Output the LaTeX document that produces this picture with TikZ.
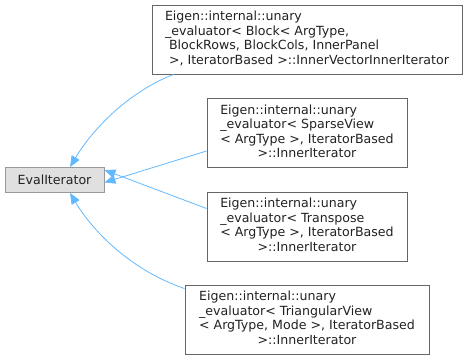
\documentclass[tikz,border=0pt]{standalone}
\usepackage{fontspec}
\setmainfont{DejaVu Sans}
\usetikzlibrary{arrows.meta}
\definecolor{edgeblue}{HTML}{63B8FF}
\definecolor{basefill}{HTML}{E0E0E0}
\definecolor{baseborder}{HTML}{999999}
\definecolor{classborder}{HTML}{666666}
\definecolor{txt}{HTML}{222222}
\begin{document}
\begin{tikzpicture}[x=1pt,y=-1pt,
  every node/.style={font=\fontsize{12.6}{14.6}\selectfont, text=txt, inner sep=0pt},
  classbox/.style={draw=classborder, fill=white, line width=0.9pt, minimum width=#1, minimum height=69},
  basebox/.style={draw=baseborder, fill=basefill, line width=0.9pt, minimum width=99, minimum height=25},
  inherit/.style={draw=edgeblue, line width=0.8pt, -{Triangle[length=11pt,width=9pt]}}]
\useasboundingbox (0,0) rectangle (468,360);

\node[basebox] (ev) at (54.5,180) {EvalIterator};

\node[classbox=310] (b1) at (307,39.5) {\begin{tabular}{@{}l@{}}
Eigen::internal::unary\\
\_evaluator< Block< ArgType,\\
\ BlockRows, BlockCols, InnerPanel\\
\ >, IteratorBased >::InnerVectorInnerIterator
\end{tabular}};

\node[classbox=200] (b2) at (307,133) {\begin{tabular}{@{}l@{}}
Eigen::internal::unary\\
\_evaluator< SparseView\\
< ArgType >, IteratorBased\\
\multicolumn{1}{@{}c@{}}{>::InnerIterator}
\end{tabular}};

\node[classbox=200] (b3) at (307,226.5) {\begin{tabular}{@{}l@{}}
Eigen::internal::unary\\
\_evaluator< Transpose\\
< ArgType >, IteratorBased\\
\multicolumn{1}{@{}c@{}}{>::InnerIterator}
\end{tabular}};

\node[classbox=244] (b4) at (307,319.5) {\begin{tabular}{@{}l@{}}
Eigen::internal::unary\\
\_evaluator< TriangularView\\
< ArgType, Mode >, IteratorBased\\
\multicolumn{1}{@{}c@{}}{>::InnerIterator}
\end{tabular}};

% inheritance edges, arrowheads at the base class
\draw[inherit] ([xshift=22pt]b1.south west) .. controls (128,92) and (92,130) .. ([xshift=15.5pt]ev.north);
\draw[inherit] ([yshift=-18pt]b2.west) -- ([yshift=-2.5pt]ev.east);
\draw[inherit] ([yshift=18pt]b3.west) -- ([yshift=10pt]ev.east);
\draw[inherit] ([yshift=-4pt]b4.north west) .. controls (130,270) and (92,230) .. ([xshift=15.5pt]ev.south);
\end{tikzpicture}
\end{document}
